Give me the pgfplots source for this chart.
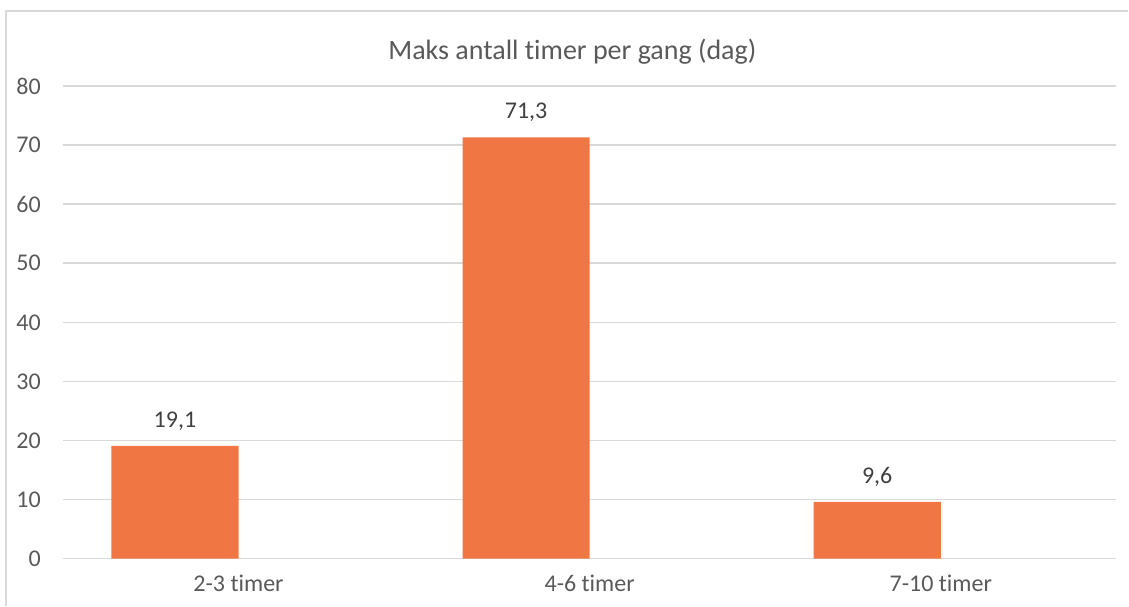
\documentclass[border=0pt]{standalone}
\usepackage{fontspec}
\setmainfont{Carlito}[Ligatures={NoCommon}]
\usepackage{pgfplots}
\pgfplotsset{compat=1.18}
\definecolor{barorange}{RGB}{240,118,68}
\definecolor{gridgray}{RGB}{217,217,217}
\definecolor{labelgray}{RGB}{89,89,89}
\definecolor{valgray}{RGB}{64,64,64}
\begin{document}
\begin{tikzpicture}
\begin{axis}[
  scale only axis,
  width=790.5pt, height=354.75pt,
  xmin=-0.5, xmax=2.5,
  ymin=0, ymax=80,
  ytick={0,10,...,80},
  xtick={0,1,2},
  xticklabels={2-3 timer,4-6 timer,7-10 timer},
  axis line style={draw=none},
  major tick length=0pt,
  ymajorgrids,
  grid style={gridgray, line width=1.1pt},
  tick label style={font=\fontsize{18}{20}\selectfont, text=labelgray},
  yticklabel style={inner sep=0pt, xshift=-16.5pt},
  xticklabel style={inner sep=0pt, yshift=-12pt},
  /pgf/number format/assume math mode=true,
  ybar,
  bar width=0.362,
  bar shift=-0.181,
  nodes near coords,
  nodes near coords style={font=\fontsize{18}{20}\selectfont, text=valgray, anchor=south, yshift=8pt,
    /pgf/number format/.cd, fixed, fixed zerofill, precision=1, use comma},
  clip=false,
]
\addplot[fill=barorange, draw=none] coordinates {(0,19.1) (1,71.3) (2,9.6)};
\node[font=\fontsize{21}{24}\selectfont, text=labelgray] at ([xshift=-13pt, yshift=26pt]rel axis cs:0.5,1) {Maks antall timer per gang (dag)};
\draw[gridgray, line width=1pt] ([xshift=-42.75pt, yshift=-35.25pt]rel axis cs:0,0) -- ([xshift=-42.75pt, yshift=56.25pt]rel axis cs:0,1) -- ([xshift=9pt, yshift=56.25pt]rel axis cs:1,1);
\end{axis}
\path[use as bounding box] (-47.25pt,-35.25pt) rectangle (799.5pt,419.25pt);
\end{tikzpicture}
\end{document}
